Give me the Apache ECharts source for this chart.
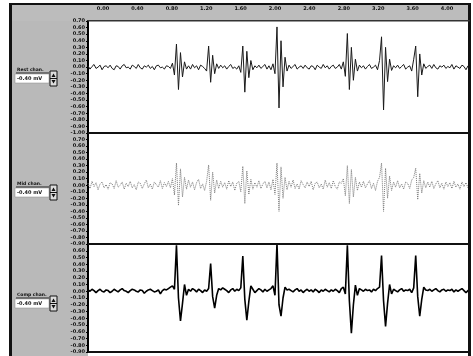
<!DOCTYPE html>
<html><head><meta charset="utf-8">
<script src="https://cdn.jsdelivr.net/npm/echarts@6/dist/echarts.min.js"></script>
<style>html,body{margin:0;padding:0;background:#fff}#c{width:473px;height:356px}</style>
</head><body><div id="c"></div>
<script>
// time tick labels (header strip)
const timeTicks = ['0.00','0.40','0.80','1.20','1.60','2.00','2.40','2.80','3.20','3.60','4.00'];
// channel names
const channelNames = ['Rest chan.','Mid chan.','Comp chan.'];
const channelValues = ['-0.40 mV','-0.40 mV','-0.40 mV'];
// signal values (hundredths), one per sample
const topTrace = [
2,-3,1,4,-2,0,3,-4,1,2,
-1,3,-2,-4,2,1,-3,2,4,-1,
0,-3,3,1,-2,4,-1,-3,2,0,
3,-2,1,-4,2,3,-1,0,-3,2,
1,-2,6,-12,35,-34,22,-15,8,-3,
2,-3,4,-1,2,-4,3,1,-2,-6,
32,-23,18,-10,5,-2,3,-1,2,-3,
1,4,-2,0,-3,2,-8,32,-38,24,
-16,10,-4,2,-1,3,-2,1,4,-3,
2,-4,5,-10,61,-62,40,-30,15,-6,
3,-2,1,4,-3,0,2,-2,3,-1,
-3,2,1,-4,3,0,-2,4,-1,2,
-3,1,3,-2,0,4,-3,8,-14,51,
-34,30,-20,12,-6,3,-1,2,-3,1,
4,-2,0,3,-4,10,46,-65,30,-22,
12,-5,2,-1,3,-2,1,4,-3,0,
2,-6,12,32,-45,20,-12,5,-2,1,
3,-2,4,-1,-3,2,0,3,-2,1,
-1,4,-3,2,0,-2,3,1,-4,2,0];
const midTrace = [
3,-5,6,-2,4,-7,2,5,-4,1,
-6,4,2,-5,7,-3,0,5,-6,3,
-2,6,-4,1,-7,5,3,-5,2,8,
-4,2,-6,5,1,-3,7,-5,4,-2,
6,-4,10,-15,34,-31,25,-18,12,-6,
8,-3,5,-7,4,9,-5,2,-8,6,
31,-23,20,-12,8,-5,6,-3,4,-6,
7,-2,5,-8,3,6,-10,29,-28,22,
-14,9,-6,4,-3,7,-5,2,6,-4,
5,-7,9,-14,34,-40,28,-20,12,-7,
6,-3,8,-5,2,-6,7,1,-4,5,
-2,6,-7,3,5,-4,2,-6,8,-3,
4,-5,7,-2,-6,5,3,10,-16,30,
-28,24,-18,12,-8,5,-3,6,-4,2,
7,-5,3,-8,6,12,34,-40,26,-20,
14,-8,5,-3,7,-4,2,-6,5,3,
-5,8,12,26,-22,18,-12,7,-4,5,
-3,6,-5,2,7,-4,3,-6,5,-2,
4,-5,6,-3,2,-6,5,-2,4,-4,3];
const bottomTrace = [
2,0,3,1,-2,1,3,0,-1,2,
1,-2,0,3,1,-1,2,4,1,0,
-2,1,3,2,0,-1,2,1,-3,0,
2,3,1,-1,0,2,-4,1,3,2,
4,6,8,3,68,-10,-44,-18,10,-6,
3,0,4,2,-1,3,1,-2,2,0,
4,41,-8,-25,-6,4,2,5,3,1,
-2,2,4,0,3,1,5,52,-12,-43,
-15,8,3,-2,1,4,2,-1,3,0,
2,4,8,-6,71,-20,-37,-10,6,2,
3,1,-1,2,4,0,2,-2,1,3,
0,2,-1,3,1,-2,2,0,3,1,
-1,2,0,3,1,-2,4,6,-4,68,
-14,-62,-20,9,-6,4,2,0,3,1,
2,-1,3,1,4,6,53,-14,-52,-18,
10,-4,3,1,-1,2,4,0,2,1,
3,-2,5,53,-8,-37,-12,6,2,1,
3,0,2,4,1,-1,2,3,0,2,
1,3,-1,2,0,2,4,1,-2,1,2];
const sampleIndex = topTrace.map((_, i) => String(i));

const chart = echarts.init(document.getElementById('c'), null, {renderer:'canvas'});
const grids = [
  {left:88, top:21, width:382, height:112},
  {left:88, top:133, width:382, height:111},
  {left:88, top:244, width:382, height:108},
  {left:103, top:13, width:344, height:1}
];
const yRanges = [[-100,70],[-90,80],[-90,70]];
const fmt = v => (v/100).toFixed(2);
const xAxes = [0,1,2].map(g => ({
  type:'category', gridIndex:g, data:sampleIndex, boundaryGap:false,
  axisLine:{show:false}, axisTick:{show:false}, axisLabel:{show:false}, splitLine:{show:false}
}));
xAxes.push({type:'category', gridIndex:3, data:timeTicks, boundaryGap:false, position:'top',
  axisLine:{show:false}, axisTick:{show:false},
  axisLabel:{show:true, interval:0, fontSize:5, fontWeight:'bold', color:'#111', margin:2, fontFamily:'DejaVu Sans'}});
const yAxes = [0,1,2].map(g => ({
  type:'value', gridIndex:g, min:yRanges[g][0], max:yRanges[g][1], interval:10,
  axisLine:{show:true, lineStyle:{color:'#000', width:2}},
  axisTick:{show:true, length:2, lineStyle:{color:'#000'}},
  splitLine:{show:false},
  axisLabel:{show:true, showMaxLabel: g === 0, fontSize:5, fontWeight:'bold', color:'#111', margin:3, formatter:fmt, fontFamily:'DejaVu Sans'}
}));
yAxes.push({type:'value', gridIndex:3, show:false});

const G = [];
// background panels
G.push({type:'rect', shape:{x:12,y:5,width:76,height:351}, style:{fill:'#b9b9b9'}, z:-10, silent:true});
G.push({type:'rect', shape:{x:12,y:5,width:458,height:16}, style:{fill:'#bcbcbc'}, z:-10, silent:true});
// frame lines
G.push({type:'rect', shape:{x:9,y:4,width:3,height:352}, style:{fill:'#111'}, z:-5});
G.push({type:'rect', shape:{x:9,y:3,width:462,height:2}, style:{fill:'#111'}, z:-5});
G.push({type:'rect', shape:{x:468,y:5,width:3,height:351}, style:{fill:'#111'}, z:5});
G.push({type:'rect', shape:{x:88,y:351,width:383,height:2}, style:{fill:'#111'}, z:5});
G.push({type:'rect', shape:{x:88,y:20,width:382,height:1.5}, style:{fill:'#333'}, z:5});
G.push({type:'rect', shape:{x:88,y:132,width:382,height:2}, style:{fill:'#111'}, z:5});
G.push({type:'rect', shape:{x:88,y:243,width:382,height:2}, style:{fill:'#111'}, z:5});
// widgets
const widgetTops = [67, 181, 292];
widgetTops.forEach((t, k) => {
  G.push({type:'text', x:17, y:t, style:{text:channelNames[k], fontSize:4.5, fontWeight:'bold', fill:'#111', fontFamily:'DejaVu Sans'}, z:10});
  G.push({type:'line', shape:{x1:16,y1:t+6,x2:49,y2:t+6}, style:{stroke:'#222', lineWidth:1}, z:10});
  G.push({type:'rect', shape:{x:15,y:t+7,width:34,height:9}, style:{fill:'#fff', stroke:'#888', lineWidth:0.5}, z:10});
  G.push({type:'text', x:17, y:t+9, style:{text:channelValues[k], fontSize:5, fontWeight:'bold', fill:'#111', fontFamily:'DejaVu Sans'}, z:11});
  G.push({type:'rect', shape:{x:50,y:t+4,width:7,height:15}, style:{fill:'#ddd', stroke:'#111', lineWidth:1}, z:10});
  G.push({type:'line', shape:{x1:50,y1:t+11.5,x2:57,y2:t+11.5}, style:{stroke:'#111', lineWidth:1}, z:11});
  G.push({type:'polygon', shape:{points:[[51.5,t+10],[55.5,t+10],[53.5,t+6.5]]}, style:{fill:'#111'}, z:11});
  G.push({type:'polygon', shape:{points:[[51.5,t+13],[55.5,t+13],[53.5,t+16.5]]}, style:{fill:'#111'}, z:11});
});

chart.setOption({
  animation:false,
  backgroundColor:'#fff',
  grid:grids,
  xAxis:xAxes,
  yAxis:yAxes,
  graphic:{elements:G},
  series:[
    {type:'line', xAxisIndex:0, yAxisIndex:0, data:topTrace, symbol:'none', lineStyle:{color:'#1a1a1a', width:1}},
    {type:'line', xAxisIndex:1, yAxisIndex:1, data:midTrace, symbol:'none', lineStyle:{color:'#7a7a7a', width:1, type:'dotted'}},
    {type:'line', xAxisIndex:2, yAxisIndex:2, data:bottomTrace, symbol:'none', lineStyle:{color:'#000', width:1.6}}
  ]
});
</script></body></html>
